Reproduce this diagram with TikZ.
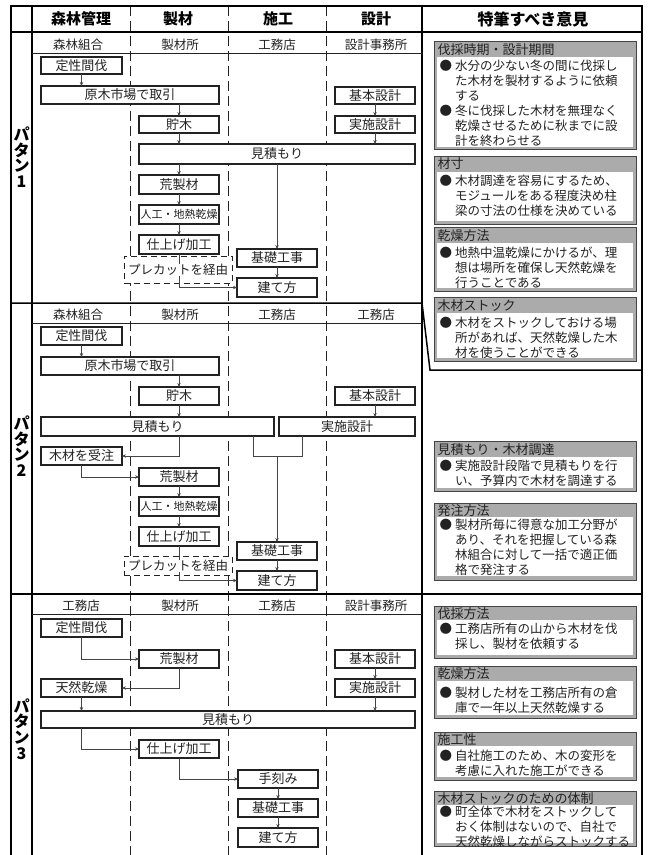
\documentclass[tikz,border=0pt]{standalone}
\usepackage{fontspec}
\setmainfont{Noto Sans CJK JP}
\usetikzlibrary{arrows.meta,calc}
\definecolor{ink}{HTML}{222222}
\definecolor{lineg}{HTML}{444444}
\definecolor{notegray}{HTML}{ABABAB}
\tikzset{
  stepbox/.style={draw=ink, line width=1.1pt, fill=white, inner sep=0pt, outer sep=0pt, text=ink, font=\fontsize{13}{15}\selectfont},
  smalltxt/.style={font=\fontsize{11}{13}\selectfont},
  conn/.style={draw=lineg, line width=0.8pt},
  arr/.style={conn, -{Stealth[length=4pt,width=3.4pt]}},
  coldash/.style={draw=ink, line width=0.9pt, dash pattern=on 10pt off 5pt},
  thickrule/.style={draw=black, line width=2pt},
  midrule/.style={draw=black, line width=1.5pt},
  thinrule/.style={draw=ink, line width=0.8pt},
  hdr/.style={font=\bfseries\fontsize{15}{18}\selectfont, inner sep=0pt, text=black},
  subhdr/.style={font=\fontsize{12.5}{15}\selectfont, inner sep=0pt, text=ink},
  patlabel/.style={font={\bfseries\fontsize{16}{15.6}\selectfont\lineskiplimit=-20pt}, align=center, inner sep=0pt, text=black},
  precut/.style={draw=ink, line width=1pt, dash pattern=on 6pt off 4pt, fill=white, inner sep=0pt, outer sep=0pt},
  precuttxt/.style={fill=white, inner sep=0.6pt, text=ink, font=\fontsize{12.5}{14}\selectfont},
  notebox/.style={draw=lineg, line width=0.8pt, fill=notegray, inner sep=0pt, outer sep=0pt},
  notewhite/.style={fill=white, draw=none, inner sep=0pt, outer sep=0pt},
  notetxt/.style={text=ink, font=\fontsize{12.5}{15}\selectfont, inner sep=0pt, anchor=base west},
  notetitle/.style={text=ink, font=\fontsize{13}{15}\selectfont, inner sep=0pt, anchor=base west},
}
% box by corners: name, x1, y1, x2, y2, text
\newcommand{\bx}[6]{\node[stepbox, minimum width={(#4)-(#2)}, minimum height={(#5)-(#3)}] (#1) at ({((#2)+(#4))/2},{((#3)+(#5))/2}) {#6};}
% note frame: name, top, white top, white bottom, bottom, title centre, title
\newcommand{\notefr}[7]{%
  \node[notebox, anchor=north west, minimum width=202, minimum height={(#5)-(#2)}] (#1) at (434,#2) {};
  \node[notewhite, anchor=north west, minimum width=196, minimum height={(#4)-(#3)}] (#1w) at (437,#3) {};
  \node[notetitle] (#1t) at (437.5,{(#6)+5}) {#7};}
% bullet: name, first line centre, list of lines
\newcommand{\bul}[3]{%
  \node[notetxt] (#1b) at (439.5,{(#2)+5}) {●};
  \foreach \ln [count=\k] in {#3} {\node[notetxt] (#1l\k) at (455,{(#2)+5+15*(\k-1)}) {\ln};}}
\begin{document}
\begin{tikzpicture}[x=1pt,y=-1pt]
\useasboundingbox (0,0) rectangle (648,855);
\fill[white] (0,0) rectangle (648,855);

% column separators
\foreach \xx in {130,228,326} \draw[coldash] (\xx,6) -- (\xx,855);

% frame and rules
\draw[thickrule] (11,855) -- (11,6) -- (642,6) -- (642,855);
\draw[midrule] (32,6) -- (32,855);
\draw[midrule] (422,6) -- (422,855);
\draw[midrule] (11,32) -- (642,32);
\draw[midrule] (11,303) -- (422,303) -- (430,370) -- (642,370);
\draw[midrule] (11,594) -- (642,594);
\draw[thinrule] (32,53) -- (422,53);
\draw[thinrule] (32,323) -- (422,323);
\draw[thinrule] (32,614) -- (422,614);

% header
\node[hdr] (h1) at (81,19) {森林管理};
\node[hdr] (h2) at (178,19) {製材};
\node[hdr] (h3) at (278,19) {施工};
\node[hdr] (h4) at (376,19) {設計};
\node[hdr, font=\bfseries\fontsize{16}{18}\selectfont] (h5) at (533,19) {特筆すべき意見};

% pattern labels
\node[patlabel] (pl1) at (21.5,157) {パ\\タ\\ン\\1};
\node[patlabel] (pl2) at (21.5,446) {パ\\タ\\ン\\2};
\node[patlabel] (pl3) at (21.5,729) {パ\\タ\\ン\\3};

% sub headers
\node[subhdr] (s1a) at (78,45) {森林組合};
\node[subhdr] (s1b) at (180,45) {製材所};
\node[subhdr] (s1c) at (277,45) {工務店};
\node[subhdr] (s1d) at (376,45) {設計事務所};
\node[subhdr] (s2a) at (78,315) {森林組合};
\node[subhdr] (s2b) at (180,315) {製材所};
\node[subhdr] (s2c) at (277,315) {工務店};
\node[subhdr] (s2d) at (376,315) {工務店};
\node[subhdr] (s3a) at (81,606) {工務店};
\node[subhdr] (s3b) at (180,606) {製材所};
\node[subhdr] (s3c) at (277,606) {工務店};
\node[subhdr] (s3d) at (376,606) {設計事務所};

% ---------- pattern 1 ----------
\node[precut, minimum width=108, minimum height=27] (pc1) at (178,269.5) {};
\bx{a1}{41}{57}{122}{74}{定性間伐}
\bx{b1}{41}{86}{219}{104}{原木市場で取引}
\bx{c1}{139}{116}{219}{133}{貯木}
\bx{d1}{335}{87}{415}{104}{基本設計}
\bx{e1}{335}{116}{415}{133}{実施設計}
\bx{f1}{139}{144}{415}{164}{見積もり}
\bx{g1}{139}{175}{219}{194}{荒製材}
\node[stepbox, smalltxt, minimum width=80, minimum height=19] (h1b) at (179,214.5) {人工・地熱乾燥};
\bx{i1}{139}{235}{219}{254}{仕上げ加工}
\bx{k1}{237}{249}{317}{267}{基礎工事}
\bx{l1}{237}{278}{317}{297}{建て方}

\draw[arr] (a1.south) -- (a1.south |- b1.north);
\draw[arr] (c1.north |- b1.south) -- (c1.north);
\draw[arr] (c1.south) -- (c1.south |- f1.north);
\draw[arr] (d1.south) -- (e1.north);
\draw[arr] (e1.south) -- (e1.south |- f1.north);
\draw[arr] (g1.north |- f1.south) -- (g1.north);
\draw[arr] (g1.south) -- (h1b.north);
\draw[arr] (h1b.south) -- (i1.north);
\draw[arr] (k1.north |- f1.south) -- (k1.north);
\draw[arr] (k1.south) -- (l1.north);
\draw[arr] (i1.south) |- (l1.west);
\node[precuttxt] (pt1) at (178,270) {プレカットを経由};

% ---------- pattern 2 ----------
\node[precut, minimum width=108, minimum height=19] (pc2) at (178,565.5) {};
\bx{a2}{41}{327}{122}{345}{定性間伐}
\bx{b2}{41}{357}{219}{375}{原木市場で取引}
\bx{c2}{139}{387}{219}{405}{貯木}
\bx{d2}{335}{387}{415}{405}{基本設計}
\bx{f2}{41}{417}{274}{436}{見積もり}
\bx{e2}{279}{417}{415}{436}{実施設計}
\bx{m2}{41}{447}{122}{465}{木材を受注}
\bx{g2}{139}{468}{219}{486}{荒製材}
\node[stepbox, smalltxt, minimum width=80, minimum height=19] (h2b) at (179,506.5) {人工・地熱乾燥};
\bx{i2}{139}{527}{219}{546}{仕上げ加工}
\bx{k2}{237}{542}{317}{560}{基礎工事}
\bx{l2}{237}{571}{317}{590}{建て方}

\coordinate (q2s) at ($(f2.south east)+(-21,0)$);
\coordinate (q2t) at ($(e2.south west)+(23,0)$);
\coordinate (q2j) at (k2.north |- m2.east);
\draw[arr] (a2.south) -- (a2.south |- b2.north);
\draw[arr] (c2.north |- b2.south) -- (c2.north);
\draw[arr] (c2.south) -- (c2.south |- f2.north);
\draw[arr] (d2.south) -- (d2.south |- e2.north);
\draw[arr] (c2.south |- f2.south) |- (m2.east);
\draw[conn] (q2s) |- (q2t |- q2j) -- (q2t);
\draw[arr] (q2j) -- (k2.north);
\draw[arr] (m2.south) |- (g2.west);
\draw[arr] (g2.south) -- (h2b.north);
\draw[arr] (h2b.south) -- (i2.north);
\draw[arr] (k2.south) -- (l2.north);
\draw[arr] (i2.south) |- (l2.west);
\node[precuttxt] (pt2) at (178,566) {プレカットを経由};

% ---------- pattern 3 ----------
\bx{a3}{41}{619}{122}{637}{定性間伐}
\bx{g3}{139}{650}{219}{668}{荒製材}
\bx{d3}{335}{650}{415}{668}{基本設計}
\bx{n3}{41}{679}{122}{697}{天然乾燥}
\bx{e3}{335}{679}{415}{697}{実施設計}
\bx{f3}{41}{711}{415}{728}{見積もり}
\bx{i3}{139}{740}{219}{758}{仕上げ加工}
\bx{t3}{238}{770}{318}{788}{手刻み}
\bx{k3}{238}{799}{318}{817}{基礎工事}
\bx{l3}{238}{828}{318}{847}{建て方}

\draw[arr] (a3.south) |- (g3.west);
\draw[arr] (g3.south) |- (n3.east);
\draw[arr] (d3.south) -- (e3.north);
\draw[arr] (n3.south) -- (n3.south |- f3.north);
\draw[arr] (e3.south) -- (e3.south |- f3.north);
\draw[arr] (n3.south |- f3.south) |- (i3.west);
\draw[arr] (i3.south) |- (t3.west);
\draw[arr] (t3.south) -- (k3.north);
\draw[arr] (k3.south) -- (l3.north);

% ---------- notes ----------
\notefr{n1}{41}{57}{147}{149}{49}{伐採時期・設計期間}
\bul{n1a}{65}{水分の少ない冬の間に伐採し,た木材を製材するように依頼,する}
\bul{n1c}{110}{冬に伐採した木材を無理なく,乾燥させるために秋までに設,計を終わらせる}

\notefr{n2}{156}{172}{221}{224}{163}{材寸}
\bul{n2a}{180}{木材調達を容易にするため、,モジュールをある程度決め柱,梁の寸法の仕様を決めている}

\notefr{n3}{227}{243}{288}{291}{235}{乾燥方法}
\bul{n3a}{252}{地熱中温乾燥にかけるが、理,想は場所を確保し天然乾燥を,行うことである}

\notefr{n4}{297}{313}{358}{361}{305}{木材ストック}
\bul{n4a}{322}{木材をストックしておける場,所があれば、天然乾燥した木,材を使うことができる}

\notefr{n5}{441}{457}{488}{491}{449}{見積もり・木材調達}
\bul{n5a}{465}{実施設計段階で見積もりを行,い、予算内で木材を調達する}

\notefr{n6}{503}{517}{576}{580}{510}{発注方法}
\bul{n6a}{524}{製材所毎に得意な加工分野が,あり、それを把握している森,林組合に対して一括で適正価,格で発注する}

\notefr{n7}{606}{620}{655}{658}{613}{伐採方法}
\bul{n7a}{628}{工務店所有の山から木材を伐,採し、製材を依頼する}

\notefr{n8}{666}{681}{715}{718}{673}{乾燥方法}
\bul{n8a}{692}{製材した材を工務店所有の倉,庫で一年以上天然乾燥する}

\notefr{n9}{732}{746}{777}{780}{739}{施工性}
\bul{n9a}{755}{自社施工のため、木の変形を,考慮に入れた施工ができる}

\notefr{n10}{791}{805}{843}{846}{798}{木材ストックのための体制}
\bul{n10a}{811}{町全体で木材をストックして,おく体制はないので、自社で,天然乾燥しながらストックする}
\end{tikzpicture}
\end{document}
